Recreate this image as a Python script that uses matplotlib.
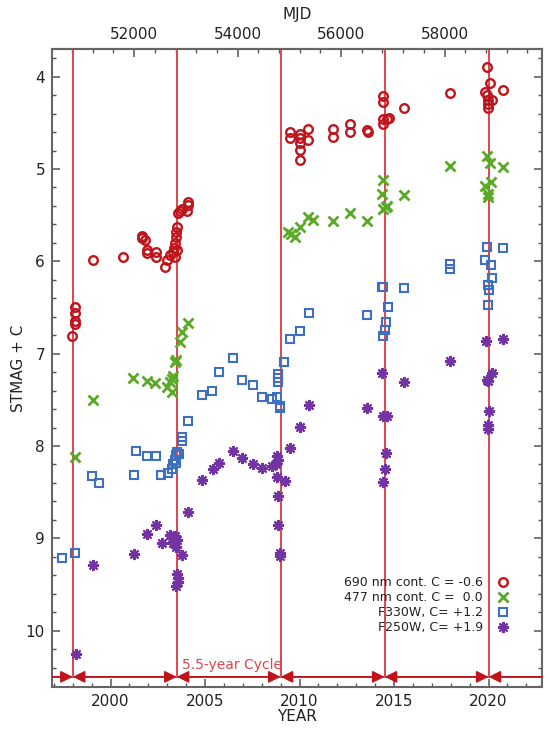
import matplotlib
matplotlib.use("Agg")
import matplotlib.pyplot as plt
from matplotlib.ticker import MultipleLocator

# 690 nm continuum (C = -0.6)
yr_690 = [1997.95, 1998.12, 1998.12, 1998.12, 1998.14, 1999.09, 2000.68,
          2001.65, 2001.65, 2001.83, 2001.92, 2001.95, 2002.39, 2002.39,
          2002.88, 2002.97, 2003.15, 2003.31, 2003.35, 2003.40, 2003.45,
          2003.45, 2003.50, 2003.42, 2003.50, 2003.59, 2003.65, 2003.77,
          2004.03, 2004.12, 2004.12,
          2009.50, 2009.50, 2010.03, 2010.03, 2010.03, 2010.03, 2010.03,
          2010.47, 2010.47, 2011.76, 2011.76, 2012.67, 2012.67, 2013.56,
          2013.60, 2014.40, 2014.40, 2014.43, 2014.43, 2014.61, 2014.75,
          2015.53, 2017.96, 2019.90, 2020.08, 2019.81, 2019.90, 2019.99,
          2020.17, 2019.99, 2019.99, 2020.78]
mag_690 = [6.81, 6.49, 6.56, 6.65, 6.68, 5.99, 5.95,
           5.72, 5.75, 5.77, 5.88, 5.91, 5.90, 5.95,
           6.06, 5.99, 5.93, 5.90, 5.85, 5.80, 5.74,
           5.68, 5.63, 5.95, 5.88, 5.48, 5.46, 5.43,
           5.45, 5.36, 5.39,
           4.60, 4.66, 4.62, 4.66, 4.72, 4.79, 4.90,
           4.57, 4.69, 4.57, 4.65, 4.51, 4.60, 4.58,
           4.60, 4.21, 4.27, 4.46, 4.51, 4.46, 4.45,
           4.34, 4.18, 3.89, 4.07, 4.17, 4.20, 4.25,
           4.25, 4.30, 4.34, 4.14]

# 477 nm continuum (C = 0.0)
yr_477 = [1998.12, 1999.09, 2001.21, 2001.92, 2002.35, 2002.97, 2003.15,
          2003.24, 2003.24, 2003.31, 2003.41, 2003.45, 2003.68, 2003.77,
          2004.12,
          2009.41, 2009.55, 2009.76, 2010.03, 2010.47, 2010.73, 2011.76,
          2012.67, 2013.56, 2014.40, 2014.35, 2015.55, 2014.43, 2014.58,
          2014.65, 2017.96, 2019.90, 2020.08, 2020.78, 2019.81, 2020.12,
          2019.99, 2019.99]
mag_477 = [8.12, 7.50, 7.26, 7.30, 7.32, 7.36, 7.31,
           7.27, 7.41, 7.24, 7.09, 7.07, 6.87, 6.76,
           6.67,
           5.68, 5.70, 5.74, 5.63, 5.52, 5.55, 5.56,
           5.48, 5.56, 5.12, 5.27, 5.28, 5.43, 5.41,
           5.40, 4.97, 4.86, 4.94, 4.98, 5.18, 5.14,
           5.27, 5.30]

# F330W (C = +1.2)
yr_330 = [1997.42, 1998.12, 1999.04, 1999.39, 2001.24, 2001.33, 2001.95,
          2002.39, 2002.66, 2003.06, 2003.24, 2003.32, 2003.41, 2003.45,
          2003.50, 2003.60, 2003.45, 2003.77, 2003.77, 2004.08, 2004.83,
          2005.35, 2005.76, 2006.47, 2006.94, 2007.52, 2008.00, 2008.53,
          2008.83, 2008.88, 2008.88, 2008.88, 2008.97, 2008.97, 2009.20,
          2009.50, 2010.03, 2010.52, 2013.56, 2014.35, 2014.43, 2015.55,
          2014.70, 2014.58, 2014.52, 2014.43, 2017.96, 2017.96, 2019.90,
          2020.78, 2019.81, 2020.12, 2020.17, 2019.96, 2020.03, 2019.99]
mag_330 = [9.21, 9.16, 8.32, 8.40, 8.31, 8.05, 8.11,
           8.11, 8.31, 8.29, 8.25, 8.20, 8.15, 8.10,
           8.07, 8.09, 8.18, 7.95, 7.90, 7.73, 7.45,
           7.40, 7.20, 7.05, 7.29, 7.34, 7.47, 7.49,
           7.47, 7.22, 7.26, 7.31, 7.59, 7.57, 7.09,
           6.84, 6.75, 6.56, 6.58, 6.28, 6.28, 6.29,
           6.49, 6.66, 6.74, 6.81, 6.03, 6.08, 5.84,
           5.85, 5.99, 6.04, 6.18, 6.26, 6.31, 6.47]

# F250W (C = +1.9)
yr_250 = [1998.17, 1999.09, 2001.24, 2001.95, 2002.41, 2002.71, 2003.15,
          2003.24, 2003.31, 2003.41, 2003.45, 2003.50, 2003.77, 2003.50,
          2003.59, 2003.45, 2003.55, 2004.08, 2004.83, 2005.41, 2005.76,
          2006.47, 2006.94, 2007.52, 2008.00, 2008.53, 2008.79, 2008.88,
          2008.76, 2008.83, 2009.23, 2008.88, 2008.88, 2008.97, 2008.97,
          2009.50, 2010.03, 2010.52, 2013.56, 2014.35, 2015.55, 2014.43,
          2014.65, 2014.58, 2014.52, 2014.43, 2017.96, 2019.87, 2020.78,
          2020.17, 2019.99, 2019.90, 2020.03, 2019.96, 2019.96]
mag_250 = [10.25, 9.29, 9.17, 8.95, 8.86, 9.05, 8.96,
           9.00, 9.05, 8.97, 9.09, 9.02, 9.18, 9.39,
           9.47, 9.52, 9.43, 8.71, 8.37, 8.25, 8.18,
           8.05, 8.13, 8.20, 8.24, 8.22, 8.11, 8.15,
           8.19, 8.34, 8.38, 8.54, 8.86, 9.16, 9.19,
           8.02, 7.79, 7.56, 7.59, 7.21, 7.31, 7.67,
           7.67, 8.08, 8.25, 8.39, 7.08, 6.86, 6.84,
           7.21, 7.30, 7.28, 7.62, 7.77, 7.82]

cycle_years = [1998.0, 2003.5, 2009.0, 2014.5, 2020.0]
labels = ["690 nm cont. C = -0.6", "477 nm cont. C =  0.0",
          "F330W, C= +1.2", "F250W, C= +1.9"]

RED = "#c0141c"
GREEN = "#5aaa28"
BLUE = "#3f6fc0"
PURPLE = "#7433a3"
LINE_RED = "#e2434e"

xmin, xmax = 1996.9, 2022.83
ymin, ymax = 10.61, 3.70
bar_y = 10.5


def year_to_mjd(y):
    return 51544.5 + (y - 2000.0) * 365.25


def mjd_to_year(m):
    return 2000.0 + (m - 51544.5) / 365.25


fig = plt.figure(figsize=(5.5, 7.29), dpi=100)
ax = fig.add_axes([0.0945, 0.0576, 0.891, 0.8752])

# cycle markers
ax.vlines(cycle_years, bar_y, ymax, color=LINE_RED, lw=1.4, zorder=1)
ax.axhline(bar_y, color=LINE_RED, lw=1.4, zorder=1)
arrow = dict(arrowstyle="<|-|>", color=RED, lw=1.2, mutation_scale=18,
             shrinkA=0, shrinkB=0)
for a, b in zip(cycle_years[:-1], cycle_years[1:]):
    ax.annotate("", xy=(b, bar_y), xytext=(a, bar_y), arrowprops=arrow)
edge = dict(arrowstyle="-|>", color=RED, lw=1.2, mutation_scale=18,
            shrinkA=0, shrinkB=0)
ax.annotate("", xy=(cycle_years[0], bar_y), xytext=(xmin, bar_y), arrowprops=edge)
ax.annotate("", xy=(cycle_years[-1], bar_y), xytext=(xmax, bar_y), arrowprops=edge)
ax.text(cycle_years[1] + 0.27, bar_y - 0.13, "5.5-year Cycle", color=LINE_RED,
        fontsize=10, ha="left", va="center")

# data
ax.plot(yr_690, mag_690, ls="none", marker="o", ms=6.2, mfc="none",
        mec=RED, mew=1.7, label=labels[0], zorder=3)
ax.plot(yr_477, mag_477, ls="none", marker="x", ms=7.0,
        mec=GREEN, mew=2.0, label=labels[1], zorder=3)
ax.plot(yr_330, mag_330, ls="none", marker="s", ms=6.0, mfc="none",
        mec=BLUE, mew=1.5, label=labels[2], zorder=3)
ax.plot(yr_250, mag_250, ls="none", marker=(8, 2, 0), ms=8.0,
        mec=PURPLE, mew=1.5, label=labels[3], zorder=3)

ax.set_xlim(xmin, xmax)
ax.set_ylim(ymin, ymax)
ax.xaxis.set_major_locator(MultipleLocator(5))
ax.xaxis.set_minor_locator(MultipleLocator(1))
ax.yaxis.set_major_locator(MultipleLocator(1))
ax.yaxis.set_minor_locator(MultipleLocator(0.2))
ax.tick_params(which="both", direction="in", top=False, right=True,
               color="#555555", labelsize=11, labelcolor="#222222")
ax.tick_params(which="major", length=6, width=1.1, pad=5)
ax.tick_params(which="minor", length=3, width=1.0)
for s in ax.spines.values():
    s.set_color("#666666")
    s.set_linewidth(1.5)

ax.set_xlabel("YEAR", fontsize=11, color="#222222", labelpad=0)
ax.set_ylabel("STMAG + C", fontsize=11, color="#222222", labelpad=0)

sec = ax.secondary_xaxis("top", functions=(year_to_mjd, mjd_to_year))
sec.set_xticks([52000, 54000, 56000, 58000])
sec.xaxis.set_minor_locator(MultipleLocator(400))
sec.tick_params(which="both", direction="in", color="#555555",
                labelsize=11, labelcolor="#222222")
sec.tick_params(which="major", length=6, width=1.1, pad=5)
sec.tick_params(which="minor", length=3, width=1.0)
sec.spines["top"].set_color("#666666")
sec.spines["top"].set_linewidth(1.5)
sec.set_xlabel("MJD", fontsize=11, color="#222222", labelpad=6)

ax.legend(loc="lower right", bbox_to_anchor=(0.933, 0.083), frameon=False,
          markerfirst=False, fontsize=9, handlelength=1.0,
          handletextpad=1.1, labelspacing=0.15, borderpad=0,
          borderaxespad=0, labelcolor="#222222")

fig.savefig("out.png", dpi=100, facecolor="white")
